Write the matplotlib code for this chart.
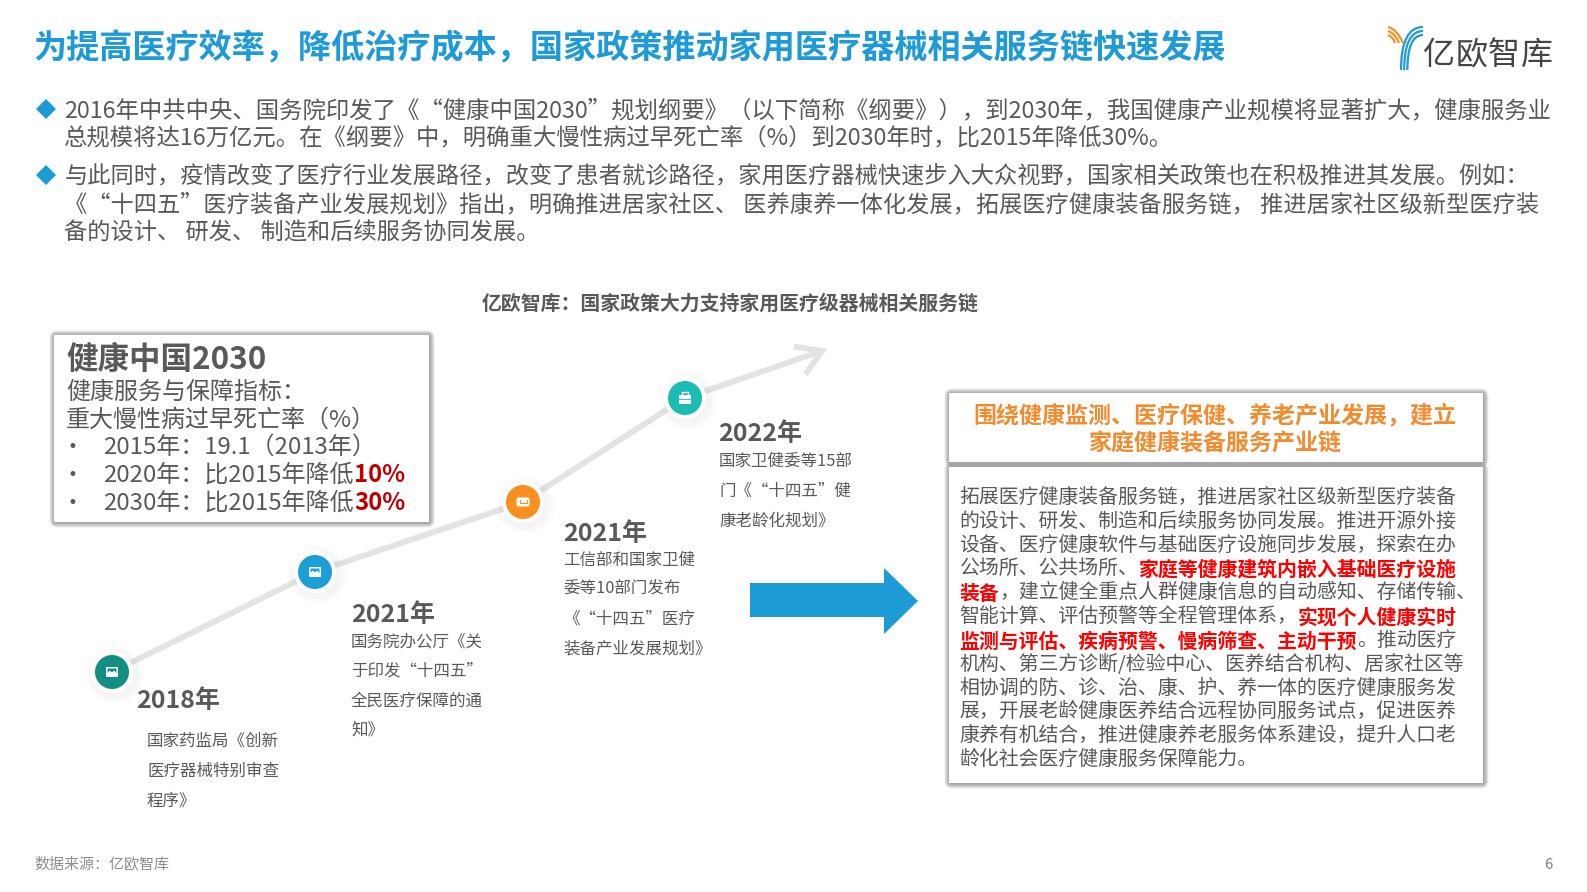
import matplotlib
matplotlib.use('Agg')
import matplotlib.pyplot as plt
from matplotlib.patches import Rectangle, Circle, Polygon, PathPatch, FancyBboxPatch
from matplotlib.path import Path

plt.rcParams['font.family'] = ['Noto Sans CJK SC', 'DejaVu Sans']

BLUE = '#1E9AD6'
GREY = '#595959'

title = '为提高医疗效率，降低治疗成本，国家政策推动家用医疗器械相关服务链快速发展'
bullet_one = ['2016年中共中央、国务院印发了《“健康中国2030”规划纲要》（以下简称《纲要》），到2030年，我国健康产业规模将显著扩大，健康服务业',
              '总规模将达16万亿元。在《纲要》中，明确重大慢性病过早死亡率（%）到2030年时，比2015年降低30%。']
bullet_two = ['与此同时，疫情改变了医疗行业发展路径，改变了患者就诊路径，家用医疗器械快速步入大众视野，国家相关政策也在积极推进其发展。例如：',
              '《“十四五”医疗装备产业发展规划》指出，明确推进居家社区、 医养康养一体化发展，拓展医疗健康装备服务链， 推进居家社区级新型医疗装',
              '备的设计、 研发、 制造和后续服务协同发展。']
subtitle = '亿欧智库：国家政策大力支持家用医疗级器械相关服务链'

box_title = '健康中国2030'
box_lines = ['健康服务与保障指标：', '重大慢性病过早死亡率（%）']
box_items = [[('2015年：19.1（2013年）', None)],
             [('2020年：比2015年降低', None), ('10%', 'red')],
             [('2030年：比2015年降低', None), ('30%', 'red')]]

years = ['2018年', '2021年', '2021年', '2022年']
year_text = [['国家药监局《创新', '医疗器械特别审查', '程序》'],
             ['国务院办公厅《关', '于印发“十四五”', '全民医疗保障的通', '知》'],
             ['工信部和国家卫健', '委等10部门发布', '《“十四五”医疗', '装备产业发展规划》'],
             ['国家卫健委等15部', '门《“十四五”健', '康老龄化规划》']]
node_colors = ['#128F82', '#1C9FD6', '#F7901E', '#1BBCB4']

head_lines = ['围绕健康监测、医疗保健、养老产业发展，建立', '家庭健康装备服务产业链']
detail_lines = [[('拓展医疗健康装备服务链，推进居家社区级新型医疗装备', None)],
                [('的设计、研发、制造和后续服务协同发展。推进开源外接', None)],
                [('设备、医疗健康软件与基础医疗设施同步发展，探索在办', None)],
                [('公场所、公共场所、', None), ('家庭等健康建筑内嵌入基础医疗设施', 'red')],
                [('装备', 'red'), ('，建立健全重点人群健康信息的自动感知、存储传输、', None)],
                [('智能计算、评估预警等全程管理体系，', None), ('实现个人健康实时', 'red')],
                [('监测与评估、疾病预警、慢病筛查、主动干预', 'red'), ('。推动医疗', None)],
                [('机构、第三方诊断/检验中心、医养结合机构、居家社区等', None)],
                [('相协调的防、诊、治、康、护、养一体的医疗健康服务发', None)],
                [('展，开展老龄健康医养结合远程协同服务试点，促进医养', None)],
                [('康养有机结合，推进健康养老服务体系建设，提升人口老', None)],
                [('龄化社会医疗健康服务保障能力。', None)]]

source = '数据来源：亿欧智库'
page = '6'
logo_name = '亿欧智库'


def fs(px):
    # font size in pt for a character height given in pixels at dpi 100
    return px * 0.72


fig = plt.figure(figsize=(15.87, 8.92), dpi=100, facecolor='white')
ax = fig.add_axes([0, 0, 1, 1])
ax.set_xlim(0, 1587)
ax.set_ylim(892, 0)
ax.axis('off')
renderer = fig.canvas.get_renderer()


def runs(x, y, parts, px, red_color):
    # draws coloured pieces one after the other on the same line
    for s, kind in parts:
        if kind == 'red':
            t = ax.text(x, y, s, fontsize=fs(px), color=red_color, weight='bold', va='center')
        else:
            t = ax.text(x, y, s, fontsize=fs(px), color=GREY, va='center')
        x = ax.transData.inverted().transform(t.get_window_extent(renderer))[1][0]


def curve(pts, color, lw):
    codes = [Path.MOVETO] + [Path.CURVE3] * (len(pts) - 1)
    ax.add_patch(PathPatch(Path(pts, codes), fc='none', ec=color, lw=lw, capstyle='butt'))


def shadow_box(x, y, w, h):
    # soft grey glow made of stacked see-through rounded rectangles
    for k in range(8, 0, -1):
        ax.add_patch(FancyBboxPatch((x - k * 0.7 + 1, y - k * 0.7 + 1), w + k * 1.4 - 1, h + k * 1.4 - 1,
                                    boxstyle='round,pad=0,rounding_size=%.1f' % k,
                                    fc='#555555', ec='none', alpha=0.085, zorder=1))


def white_box(x, y, w, h):
    ax.add_patch(Rectangle((x, y), w, h, fc='white', ec='none', zorder=1.5))


def icon(i, x, y, c):
    # little white glyphs in the timeline dots
    z = 7
    if i < 2:
        ax.add_patch(Rectangle((x - 6, y - 5), 12, 10, fc='white', ec='none', zorder=z))
        ax.add_patch(Polygon([(x - 4.5, y - 3.5), (x + 4.5, y - 3.5), (x + 4.5, y + 1), (x + 2, y - 1.5),
                              (x, y + 0.5), (x - 2.5, y - 1.5), (x - 4.5, y + 1)], fc=c, ec='none', zorder=z + 1))
    elif i == 2:
        ax.add_patch(FancyBboxPatch((x - 6.5, y - 4.5), 13, 9, boxstyle='round,pad=0,rounding_size=2',
                                    fc='white', ec='none', zorder=z))
        ax.plot([x - 3.5, x - 3.5, x + 3.5, x + 3.5], [y - 2, y + 1, y + 1, y - 2], color=c, lw=0.8, zorder=z + 1)
    else:
        ax.add_patch(Rectangle((x - 6, y - 3.5), 12, 9, fc='white', ec='none', zorder=z))
        ax.plot([x - 3, x - 3, x + 3, x + 3], [y - 3.5, y - 6, y - 6, y - 3.5], color='white', lw=1, zorder=z)
        ax.plot([x - 6, x + 6], [y + 0.5, y + 0.5], color=c, lw=0.6, zorder=z + 1)


# header
ax.text(33, 49, title, fontsize=fs(33.2), color=BLUE, weight='bold', va='center')

# logo
for dx, top in zip([0, 3.2, 6.4], [0, 4, 8]):
    curve([(1401 + dx, 70), (1401 + dx, 27 + top), (1423, 27 + top)], BLUE, 1.6)
for d in [0, 4, 8]:
    curve([(1388, 27 + d), (1397 - d * 0.5, 29 + d), (1403 - d, 43)], '#F39325', 1.6)
for i, ch in enumerate(logo_name):
    ax.text(1439 + i * 32.5, 55, ch, fontsize=fs(32), color='#444444', ha='center', va='center')

# bullets at the top
ax.plot([46], [108.5], marker='D', ms=10.5, color=BLUE, mew=0)
ax.plot([46], [174.5], marker='D', ms=10.5, color=BLUE, mew=0)
for yy, s in zip([110.5, 139], bullet_one):
    ax.text(64, yy, s, fontsize=fs(23.37), color=GREY, va='center')
for yy, s in zip([176.5, 204.5, 233], bullet_two):
    ax.text(64.5, yy, s, fontsize=fs(23.2), color=GREY, va='center')

ax.text(730, 303.5, subtitle, fontsize=fs(19.9), color=GREY, weight='bold', ha='center', va='center')

# health china box
shadow_box(54, 335, 375, 187)
white_box(54, 335, 375, 187)
ax.text(66, 360, box_title, fontsize=fs(31.5), color=GREY, weight='bold', va='center')
for y, s in zip([392.5, 420], box_lines):
    ax.text(66, y, s, fontsize=fs(24), color=GREY, va='center')
for y, parts in zip([447, 475, 503.5], box_items):
    ax.text(68, y, '•', fontsize=fs(17), color=GREY, va='center', family='DejaVu Sans')
    runs(103.5, y, parts, 24, '#C00000')

# timeline
node_x = [112, 315, 523, 685]
node_y = [672, 572, 502, 398]
tip = (822, 351)
ax.plot(node_x + [tip[0]], node_y + [tip[1]], color='#E3E3E3', lw=4.2, solid_capstyle='butt', zorder=2)
ax.plot([797, tip[0], 807], [347, tip[1], 372], color='#E3E3E3', lw=4.2,
        solid_joinstyle='miter', zorder=2)
for i, (x, y, c) in enumerate(zip(node_x, node_y, node_colors)):
    for r, a in [(30, 0.02), (27, 0.03), (24, 0.04)]:
        ax.add_patch(Circle((x + 3, y + 3), r, fc='#999999', ec='none', alpha=a, zorder=3))
    ax.add_patch(Circle((x, y), 21, fc='white', ec='none', zorder=4))
    ax.add_patch(Circle((x, y), 17, fc=c, ec='none', zorder=5))
    icon(i, x, y, c)

year_x = [136.5, 351, 563, 718]
year_y = [701, 615.5, 534, 434]
text_x = [147, 351, 563, 719]
text_y = [741.5, 641.5, 560, 461.5]
for i in range(4):
    ax.text(year_x[i], year_y[i], years[i], fontsize=fs(25), color=GREY, weight='bold', va='center')
    for j, s in enumerate(year_text[i]):
        ax.text(text_x[i], text_y[i] + j * 29.6, s, fontsize=fs(16.5), color=GREY, va='center')

# big arrow
ax.add_patch(Polygon([(750, 583), (884, 583), (884, 568), (918, 601), (884, 634), (884, 617), (750, 617)],
                     fc='#1C9BD4', ec='none'))

# right boxes
shadow_box(949, 393, 534, 69)
shadow_box(949, 467, 534, 316)
ax.add_patch(Rectangle((949, 461), 534, 7, fc='#A6A6A6', ec='none', zorder=1.2))
white_box(949, 393, 534, 69)
white_box(949, 467, 534, 316)
for y, s in zip([415, 443], head_lines):
    ax.text(1215, y, s, fontsize=fs(23), color='#F28A2E', weight='bold', ha='center', va='center', zorder=3)
for i, parts in enumerate(detail_lines):
    runs(959.5, 498 + i * 23.8, parts, 19.9, '#FF0000')

# footer
ax.text(34, 864, source, fontsize=fs(15), color='#8C8C8C', va='center')
ax.text(1548, 865, page, fontsize=fs(15), color='#7F7F7F', ha='center', va='center')

fig.savefig('out.png', dpi=100)
